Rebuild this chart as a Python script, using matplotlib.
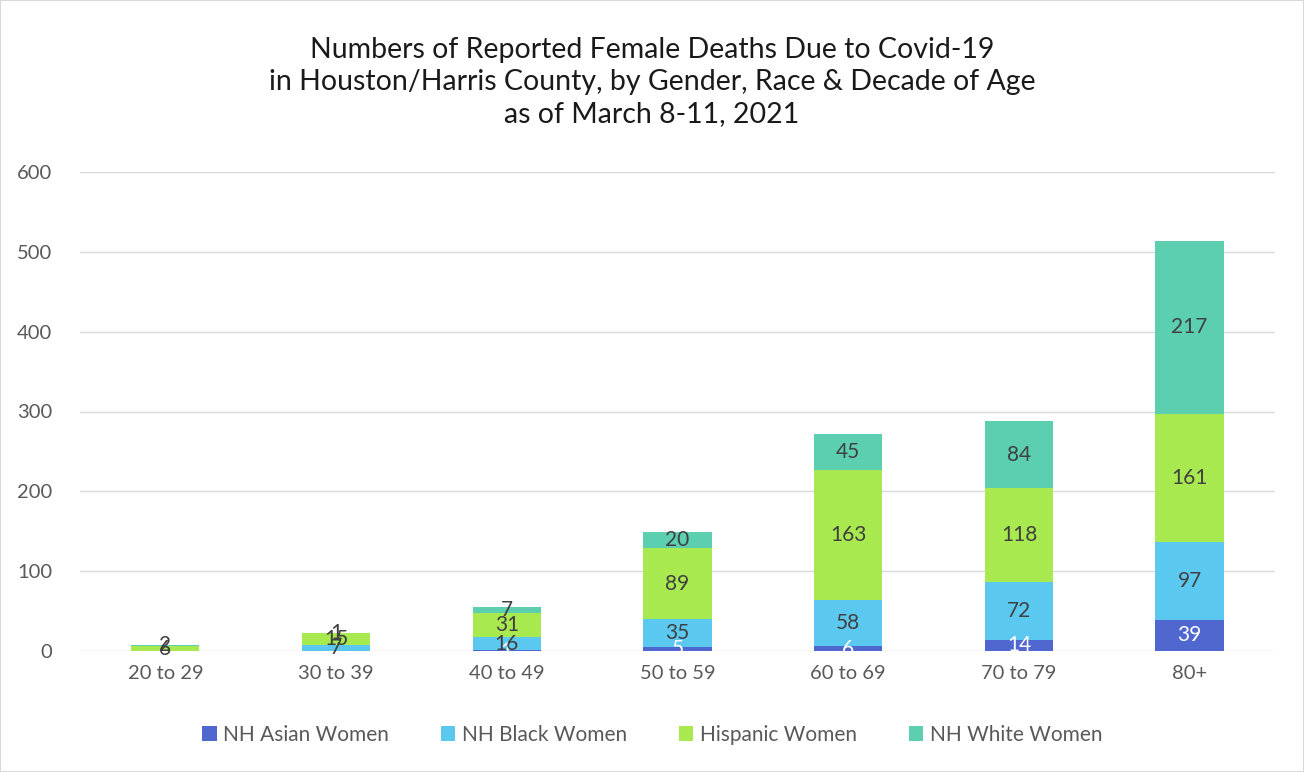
import numpy as np
import matplotlib.pyplot as plt
from matplotlib.patches import Rectangle

plt.rcParams['font.family'] = ['Lato', 'DejaVu Sans']

# ---- Data ----
ages = ["20 to 29", "30 to 39", "40 to 49", "50 to 59", "60 to 69", "70 to 79", "80+"]
asian = [0, 0, 1, 5, 6, 14, 39]
black = [0, 7, 16, 35, 58, 72, 97]
hispanic = [6, 15, 31, 89, 163, 118, 161]
white = [2, 1, 7, 20, 45, 84, 217]

series = [
    ("NH Asian Women", asian, "#4f67cf", "white"),
    ("NH Black Women", black, "#5bc8f0", "#404040"),
    ("Hispanic Women", hispanic, "#a8e94f", "#404040"),
    ("NH White Women", white, "#5ccfb0", "#404040"),
]

fig = plt.figure(figsize=(13.04, 7.72), dpi=100)
ax = fig.add_axes([80 / 1304, 1 - 651 / 772, 1195 / 1304, 479 / 772])

x = np.arange(len(ages))
bottom = np.zeros(len(ages))
for name, vals, color, tcolor in series:
    vals = np.array(vals, dtype=float)
    ax.bar(x, vals, 0.4, bottom=bottom, color=color, label=name, zorder=3)
    for xi, b, v in zip(x, bottom, vals):
        if v > 0:
            ax.text(xi, b + v / 2, f"{int(v)}", ha="center", va="center",
                    fontsize=15, color=tcolor, zorder=4)
    bottom += vals

ax.set_xlim(-0.5, len(ages) - 0.5)
ax.set_ylim(0, 600)
ax.set_yticks(range(0, 601, 100))
ax.set_xticks(x)
ax.set_xticklabels(ages)
ax.tick_params(axis="both", length=0, labelsize=14.5, labelcolor="#595959")
ax.tick_params(axis="x", pad=10)
ax.tick_params(axis="y", pad=20)
ax.grid(axis="y", color="#d9d9d9", lw=1, zorder=0)
for s in ax.spines.values():
    s.set_visible(False)

fig.text(0.5, 1 - 82 / 772,
         "Numbers of Reported Female Deaths Due to Covid-19\n"
         "in Houston/Harris County, by Gender, Race & Decade of Age\n"
         "as of March 8-11, 2021",
         ha="center", va="center", fontsize=20.5, color="#1a1a1a", linespacing=1.3)

fig.legend(loc="center", bbox_to_anchor=(0.5, 1 - 735 / 772), ncol=4, frameon=False,
           fontsize=15, handlelength=0.7, handleheight=0.7, handletextpad=0.3,
           columnspacing=2.5, labelcolor="#595959")

fig.patches.append(Rectangle((0, 0), 1, 1, transform=fig.transFigure, fill=False,
                             edgecolor="#d9d9d9", lw=1.5))

fig.savefig("out.png", dpi=100)
